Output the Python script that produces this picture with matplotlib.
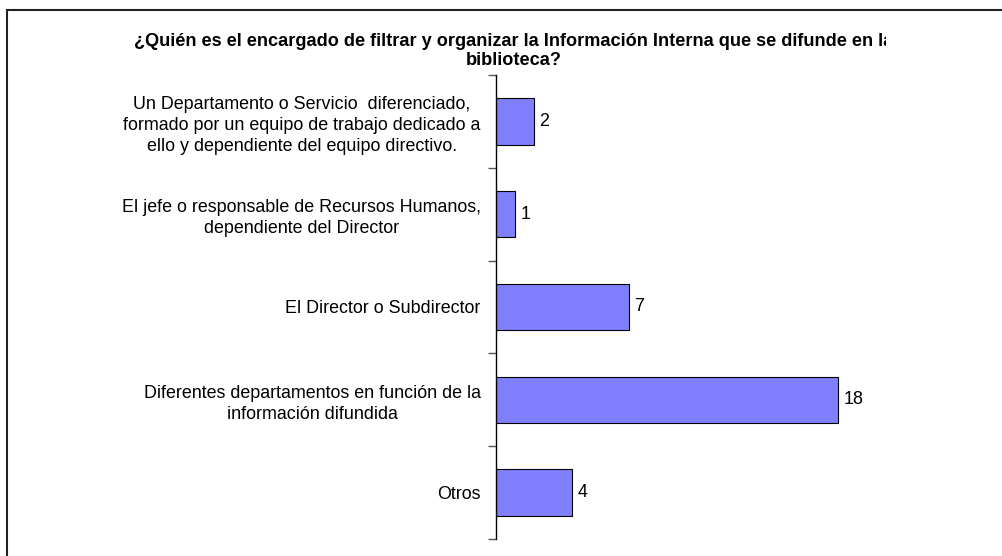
import matplotlib
matplotlib.use("Agg")
import matplotlib.pyplot as plt
from matplotlib.patches import Rectangle
from matplotlib.transforms import Bbox
import numpy as np

plt.rcParams["font.family"] = ["Liberation Sans", "DejaVu Sans"]

TITLE = ("¿Quién es el encargado de filtrar y organizar la Información Interna que se difunde en la\n"
         "biblioteca?")
CATEGORIES = [
    "Un Departamento o Servicio  diferenciado,\nformado por un equipo de trabajo dedicado a\nello y dependiente del equipo directivo.",
    "El jefe o responsable de Recursos Humanos,\ndependiente del Director",
    "El Director o Subdirector",
    "Diferentes departamentos en función de la\ninformación difundida",
    "Otros",
]
VALUES = [2, 1, 7, 18, 4]

W, H = 1003, 556
BAR = "#8080ff"

fig = plt.figure(figsize=(W / 100, H / 100), dpi=100)
fig.patch.set_facecolor("white")

# outer chart-area frame (only top and left visible, rest cropped)
fig.patches.append(Rectangle((7 / W, -0.1), 1.2, (H - 10) / H + 0.1,
                             transform=fig.transFigure, fill=False,
                             edgecolor="#222222", linewidth=1.5))

ax = fig.add_axes([496 / W, (H - 539) / H, (990 - 496) / W, (539 - 75) / H])
y = np.arange(len(CATEGORIES))
ax.barh(y, VALUES, height=0.5, color=BAR, edgecolor="black", linewidth=0.8)
ax.set_xlim(0, 26)
ax.set_ylim(len(CATEGORIES) - 0.5, -0.5)

for spine in ["top", "right", "bottom"]:
    ax.spines[spine].set_visible(False)
ax.spines["left"].set_linewidth(1.0)
ax.xaxis.set_visible(False)

# boundary ticks between categories, labels at the centres
ax.set_yticks(np.arange(-0.5, len(CATEGORIES), 1.0))
ax.set_yticklabels([])
ax.tick_params(axis="y", which="major", length=6, width=1.0, color="#555555", direction="out")
ax.set_yticks(y, minor=True)
ax.set_yticklabels(CATEGORIES, minor=True, fontsize=12.9, linespacing=1.3)
ax.tick_params(axis="y", which="minor", length=0, pad=11)
for lab in ax.get_yticklabels(minor=True):
    lab.set_multialignment("center")

for yi, v in zip(y, VALUES):
    ax.annotate(str(v), (v, yi), xytext=(4, 0), textcoords="offset points",
                va="center", ha="left", fontsize=12.9)

# title runs past the chart area in the original and gets cut off
t = fig.text(514 / W, (H - 51) / H, TITLE, ha="center", va="center",
             fontsize=13.1, fontweight="bold", linespacing=1.1)
t.set_clip_on(True)
t.set_clip_box(Bbox.from_extents(0, 0, 886, H))

fig.savefig("out.png", dpi=100, facecolor="white")
